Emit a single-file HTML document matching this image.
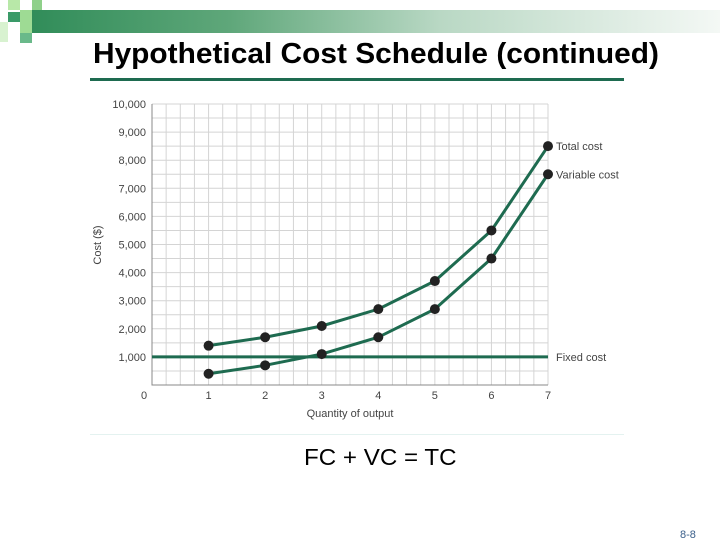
<!DOCTYPE html>
<html><head><meta charset="utf-8"><style>
body{margin:0;width:720px;height:540px;background:#fff;overflow:hidden;font-family:"Liberation Sans",sans-serif;position:relative}
.sq{position:absolute}
</style></head><body>
<div style="position:absolute;left:20px;top:10px;width:700px;height:23px;background:linear-gradient(to right,#2e8b57 0%,#5fa77a 30%,#b9d8c4 60%,#f4f8f5 100%)"></div>
<div class="sq" style="left:8px;top:0;width:12px;height:10px;background:#b8e8a8"></div>
<div class="sq" style="left:32px;top:0;width:10px;height:10px;background:#8fd08a"></div>
<div class="sq" style="left:8px;top:12px;width:12px;height:10px;background:#3a9a68"></div>
<div class="sq" style="left:20px;top:10px;width:12px;height:23px;background:#9edb94"></div>
<div class="sq" style="left:0;top:22px;width:8px;height:20px;background:#d8f2d0"></div>
<div class="sq" style="left:20px;top:33px;width:12px;height:10px;background:#6ab98a"></div>
<div style="position:absolute;left:93px;top:38px;font-size:29px;font-weight:bold;color:#000;white-space:nowrap;transform:scaleX(1.03);transform-origin:0 0">Hypothetical Cost Schedule (continued)</div>
<div style="position:absolute;left:90px;top:78px;width:534px;height:3px;background:#1e6b50"></div>
<svg id="chart" width="720" height="540" style="position:absolute;left:0;top:0" font-family="Liberation Sans, sans-serif"></svg>
<div style="position:absolute;left:90px;top:434px;width:534px;height:1px;background:#e4f2f0"></div>
<div style="position:absolute;left:304px;top:444px;font-size:23px;color:#000;white-space:nowrap;transform:scaleX(1.05);transform-origin:0 0">FC + VC = TC</div>
<div style="position:absolute;left:680px;top:529px;font-size:11px;color:#3a5f8a">8-8</div>
<script>
const quantities=[1,2,3,4,5,6,7];
const totalCost=[1400,1700,2100,2700,3700,5500,8500];
const variableCost=[400,700,1100,1700,2700,4500,7500];
const fixedCost=1000;
const yTicks=[0,1000,2000,3000,4000,5000,6000,7000,8000,9000,10000];
const yTickLabels=["0","1,000","2,000","3,000","4,000","5,000","6,000","7,000","8,000","9,000","10,000"];
const xTicks=[0,1,2,3,4,5,6,7];
const svg=document.getElementById('chart');
const NS='http://www.w3.org/2000/svg';
const X0=152,X1=548,Y0=385,Y1=104;
const xs=v=>X0+(X1-X0)*v/7;
const ys=v=>Y0-(Y0-Y1)*v/10000;
function mk(t,a,p){const e=document.createElementNS(NS,t);for(const k in a)e.setAttribute(k,a[k]);(p||svg).appendChild(e);return e;}
const grid=mk('g',{});


for(let i=0;i<=28;i++){const x=xs(i/4);const l=mk('line',{x1:x,x2:x,y1:Y1,y2:Y0,stroke:'#d4d4d4','stroke-width':1},grid);}
for(let i=0;i<=20;i++){const y=ys(i*500);const l=mk('line',{x1:X0,x2:X1,y1:y,y2:y,stroke:'#d4d4d4','stroke-width':1},grid);}
const ax=mk('path',{d:`M${X0} ${Y1}V${Y0}H${X1}`,stroke:'#888',fill:'none','stroke-width':1});


yTicks.forEach((v,i)=>{if(i===0)return;const t=mk('text',{x:X0-6,y:ys(v)+4,'text-anchor':'end','font-size':11,fill:'#444'});t.textContent=yTickLabels[i];});
xTicks.forEach(v=>{const t=mk('text',{x:v===0?X0-8:xs(v),y:Y0+14,'text-anchor':'middle','font-size':11,fill:'#444'});t.textContent=String(v);});
const xt=mk('text',{x:350,y:417,'text-anchor':'middle','font-size':11,fill:'#444'});xt.textContent='Quantity of output';


const yt=mk('text',{x:101,y:245,'text-anchor':'middle','font-size':11,fill:'#444',transform:'rotate(-90 101 245)'});yt.textContent='Cost ($)';


const fl=mk('line',{x1:X0,x2:X1,y1:ys(fixedCost),y2:ys(fixedCost),stroke:'#1e6b50','stroke-width':3});


function series(vals,name){
 const p=mk('polyline',{points:vals.map((v,i)=>xs(quantities[i])+','+ys(v)).join(' '),fill:'none',stroke:'#1e6b50','stroke-width':3});
 
 
 vals.forEach((v,i)=>{const c=mk('circle',{cx:xs(quantities[i]),cy:ys(v),r:5,fill:'#222'});});
}
series(totalCost,'total-cost');
series(variableCost,'variable-cost');
function lab(txt,v,name){const t=mk('text',{x:X1+8,y:ys(v)+4,'font-size':11,fill:'#444'});t.textContent=txt;}
lab('Total cost',totalCost[6],'total-cost-label');
lab('Variable cost',variableCost[6],'variable-cost-label');
lab('Fixed cost',fixedCost,'fixed-cost-label');
</script>
</body></html>
